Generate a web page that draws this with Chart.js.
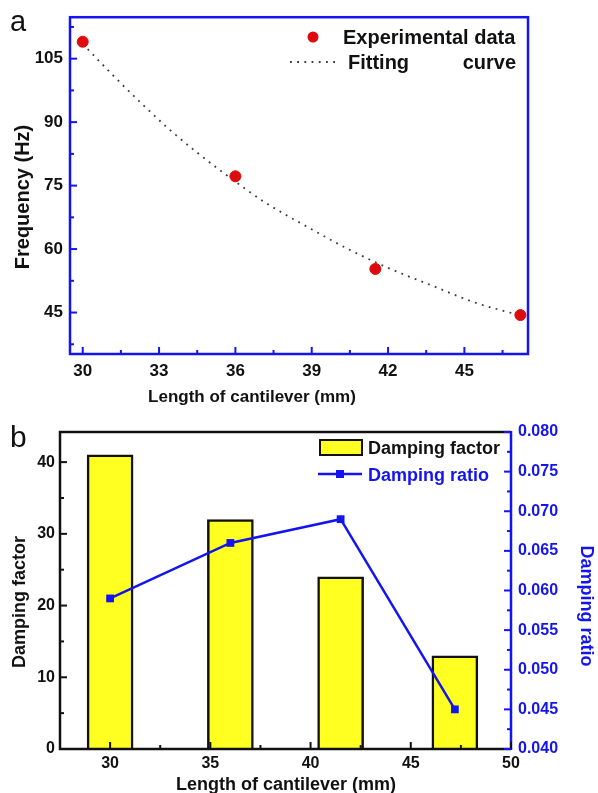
<!DOCTYPE html>
<html>
<head>
<meta charset="utf-8">
<script src="https://cdn.jsdelivr.net/npm/chart.js@4.4.1/dist/chart.umd.min.js"></script>
<style>
  html, body { margin: 0; padding: 0; background: #fff; }
  body { width: 598px; height: 793px; position: relative; overflow: hidden; }
  canvas { position: absolute; left: 0; }
  #chartA { top: 0; }
  #chartB { top: 410px; }
</style>
</head>
<body>
<canvas id="chartA" width="598" height="410"></canvas>
<canvas id="chartB" width="598" height="383"></canvas>
<script>
// panel a - frequency vs cantilever length
const lengthA = [30, 36, 41.5, 47.2];
const freqA = [109, 77.2, 55.3, 44.4];
const fitLen = [30, 31.2, 32.3, 33.4, 34.5, 35.6, 37.2, 38.9, 40.5, 42.1, 43.8, 45.4, 47.2];
const fitFreq = [108.5, 101.0, 94.5, 88.3, 82.8, 77.7, 70.9, 65.0, 59.8, 55.3, 51.2, 47.4, 44.3];
const xTicksA = [30, 33, 36, 39, 42, 45];
const yTicksA = [45, 60, 75, 90, 105];

// panel b - damping factor (bars) and damping ratio (line)
const lengthB = [30, 36, 41.5, 47.2];
const dampFactor = [41, 32, 24, 13];
const dampRatio = [0.059, 0.066, 0.069, 0.045];
const xTicksB = [30, 35, 40, 45, 50];
const yTicksB = [0, 10, 20, 30, 40];
const y2TicksB = [0.040, 0.045, 0.050, 0.055, 0.060, 0.065, 0.070, 0.075, 0.080];

const FONT = "'Liberation Sans', Arial, Helvetica, sans-serif";
const BLUE = '#1414f0';
const INK = '#111111';

const fixSize = (w, h) => s => { if (w != null) s.width = w; if (h != null) s.height = h; };
const useTicks = list => s => { s.ticks = list.map(v => ({ value: v })); };

function text(ctx, str, x, y, font, color, align, rot) {
  ctx.save();
  ctx.translate(x, y);
  ctx.rotate(rot || 0);
  ctx.font = font;
  ctx.fillStyle = color;
  ctx.textAlign = align || 'left';
  ctx.textBaseline = 'alphabetic';
  ctx.fillText(str, 0, 0);
  ctx.restore();
}

// inward major + minor tick marks, placed through the scale
function inTicks(chart, id, color, big, small) {
  const s = chart.scales[id], a = chart.chartArea, ctx = chart.ctx;
  const vals = s.ticks.map(t => t.value);
  const step = vals[1] - vals[0];
  ctx.save();
  ctx.strokeStyle = color;
  ctx.lineWidth = 2;
  const mark = (v, len) => {
    const p = s.getPixelForValue(v);
    ctx.beginPath();
    if (s.axis === 'x') { ctx.moveTo(p, a.bottom); ctx.lineTo(p, a.bottom - len); }
    else if (s.position === 'left') { ctx.moveTo(a.left, p); ctx.lineTo(a.left + len, p); }
    else { ctx.moveTo(a.right, p); ctx.lineTo(a.right - len, p); }
    ctx.stroke();
  };
  vals.forEach(v => mark(v, big));
  for (let v = vals[0] - step / 2; v <= s.max + 1e-9; v += step) {
    if (v >= s.min) mark(v, small);
  }
  ctx.restore();
}

const panelA = {
  id: 'panelA',
  afterDraw(chart) {
    const ctx = chart.ctx, a = chart.chartArea;
    const pts = chart.data.datasets[0], fit = chart.data.datasets[1];
    ctx.save();
    ctx.strokeStyle = BLUE;
    ctx.lineWidth = 2.5;
    ctx.strokeRect(a.left, a.top, a.right - a.left, a.bottom - a.top);
    ctx.restore();
    inTicks(chart, 'x', BLUE, 7, 4);
    inTicks(chart, 'y', BLUE, 7, 4);

    text(ctx, 'a', 10, 31, `29px ${FONT}`, INK);
    text(ctx, 'Length of cantilever (mm)', 252, 401.5, `bold 17px ${FONT}`, INK, 'center');
    text(ctx, 'Frequency (Hz)', 29, 197, `bold 20px ${FONT}`, INK, 'center', -Math.PI / 2);

    // legend
    ctx.save();
    ctx.fillStyle = pts.backgroundColor;
    ctx.beginPath();
    ctx.arc(313, 37, pts.pointRadius, 0, Math.PI * 2);
    ctx.fill();
    ctx.strokeStyle = fit.borderColor;
    ctx.lineWidth = fit.borderWidth;
    ctx.setLineDash(fit.borderDash);
    ctx.beginPath();
    ctx.moveTo(290, 62);
    ctx.lineTo(336, 62);
    ctx.stroke();
    ctx.restore();
    text(ctx, 'Experimental data', 343, 44, `bold 20px ${FONT}`, INK);
    text(ctx, 'Fitting', 348, 69, `bold 20px ${FONT}`, INK);
    text(ctx, 'curve', 516, 69, `bold 20px ${FONT}`, INK, 'right');
  }
};

const panelB = {
  id: 'panelB',
  afterDraw(chart) {
    const ctx = chart.ctx, a = chart.chartArea;
    const line = chart.data.datasets[0], bars = chart.data.datasets[1];
    ctx.save();
    ctx.lineWidth = 2.5;
    ctx.strokeStyle = INK;
    ctx.beginPath();
    ctx.moveTo(a.right, a.top);
    ctx.lineTo(a.left, a.top);
    ctx.lineTo(a.left, a.bottom);
    ctx.lineTo(a.right, a.bottom);
    ctx.stroke();
    ctx.strokeStyle = BLUE;
    ctx.beginPath();
    ctx.moveTo(a.right, a.top - 1);
    ctx.lineTo(a.right, a.bottom + 1);
    ctx.stroke();
    ctx.restore();
    inTicks(chart, 'x', INK, 7, 4);
    inTicks(chart, 'y', INK, 7, 4);
    inTicks(chart, 'y1', BLUE, 7, 4);

    text(ctx, 'b', 10, 36.5, `30px ${FONT}`, INK);
    text(ctx, 'Length of cantilever (mm)', 286, 380, `bold 18px ${FONT}`, INK, 'center');
    text(ctx, 'Damping factor', 25, 192, `bold 18px ${FONT}`, INK, 'center', -Math.PI / 2);
    text(ctx, 'Damping ratio', 581, 196, `bold 18px ${FONT}`, BLUE, 'center', Math.PI / 2);

    // legend
    ctx.save();
    ctx.fillStyle = bars.backgroundColor;
    ctx.fillRect(320, 30, 42, 15);
    ctx.strokeStyle = bars.borderColor;
    ctx.lineWidth = 2;
    ctx.strokeRect(320, 30, 42, 15);
    ctx.strokeStyle = line.borderColor;
    ctx.lineWidth = line.borderWidth;
    ctx.beginPath();
    ctx.moveTo(318, 64);
    ctx.lineTo(362, 64);
    ctx.stroke();
    ctx.fillStyle = line.pointBackgroundColor;
    ctx.fillRect(336, 60, 8, 8);
    ctx.restore();
    text(ctx, 'Damping factor', 368, 44, `bold 18px ${FONT}`, INK);
    text(ctx, 'Damping ratio', 368, 70.5, `bold 18px ${FONT}`, BLUE);
  }
};

Chart.defaults.font.family = FONT;
Chart.defaults.animation = false;

const tickFont = size => ({ family: FONT, size: size, weight: 'bold' });

new Chart(document.getElementById('chartA'), {
  type: 'scatter',
  data: {
    datasets: [
      {
        label: 'Experimental data',
        data: lengthA.map((x, i) => ({ x: x, y: freqA[i] })),
        backgroundColor: '#dd0b0b',
        borderColor: '#dd0b0b',
        pointRadius: 5.5,
        order: 0
      },
      {
        label: 'Fitting curve',
        data: fitLen.map((x, i) => ({ x: x, y: fitFreq[i] })),
        showLine: true,
        borderColor: '#3a3a3a',
        borderWidth: 1.8,
        borderDash: [1.8, 5.4],
        pointRadius: 0,
        cubicInterpolationMode: 'monotone',
        order: 1
      }
    ]
  },
  options: {
    responsive: false,
    events: [],
    layout: { padding: { top: 15, right: 70, left: 0, bottom: 0 } },
    plugins: { legend: { display: false }, tooltip: { enabled: false } },
    scales: {
      x: {
        type: 'linear', min: 29.5, max: 47.5,
        grid: { display: false, drawTicks: false },
        border: { display: false },
        afterBuildTicks: useTicks(xTicksA),
        afterFit: fixSize(null, 56),
        ticks: { color: INK, font: tickFont(17), padding: 7, autoSkip: false, maxRotation: 0 }
      },
      y: {
        type: 'linear', min: 35.2, max: 114.8,
        grid: { display: false, drawTicks: false },
        border: { display: false },
        afterBuildTicks: useTicks(yTicksA),
        afterFit: fixSize(70, null),
        ticks: { color: INK, font: tickFont(17), padding: 7, autoSkip: false }
      }
    }
  },
  plugins: [panelA]
});

new Chart(document.getElementById('chartB'), {
  type: 'bar',
  data: {
    datasets: [
      {
        type: 'line',
        label: 'Damping ratio',
        data: lengthB.map((x, i) => ({ x: x, y: dampRatio[i] })),
        yAxisID: 'y1',
        borderColor: BLUE,
        borderWidth: 2.5,
        pointStyle: 'rect',
        pointRadius: 5.5,
        pointBackgroundColor: BLUE,
        pointBorderColor: BLUE,
        pointBorderWidth: 0,
        order: 0
      },
      {
        type: 'bar',
        label: 'Damping factor',
        data: lengthB.map((x, i) => ({ x: x, y: dampFactor[i] })),
        yAxisID: 'y',
        backgroundColor: '#ffff22',
        borderColor: '#111111',
        borderWidth: 2.5,
        barThickness: 46,
        order: 1
      }
    ]
  },
  options: {
    responsive: false,
    events: [],
    layout: { padding: { top: 22, right: 0, left: 0, bottom: 0 } },
    plugins: { legend: { display: false }, tooltip: { enabled: false } },
    scales: {
      x: {
        type: 'linear', min: 27.5, max: 50, offset: false,
        grid: { display: false, drawTicks: false, offset: false },
        border: { display: false },
        afterBuildTicks: useTicks(xTicksB),
        afterFit: fixSize(null, 44),
        ticks: { color: INK, font: tickFont(16), padding: 5, autoSkip: false, maxRotation: 0 }
      },
      y: {
        type: 'linear', position: 'left', min: 0, max: 44.2,
        grid: { display: false, drawTicks: false },
        border: { display: false },
        afterBuildTicks: useTicks(yTicksB),
        afterFit: fixSize(60, null),
        ticks: { color: INK, font: tickFont(16), padding: 5, autoSkip: false }
      },
      y1: {
        type: 'linear', position: 'right', min: 0.04, max: 0.08,
        grid: { display: false, drawTicks: false },
        border: { display: false },
        afterBuildTicks: useTicks(y2TicksB),
        afterFit: fixSize(87, null),
        ticks: { color: BLUE, font: tickFont(16), padding: 7, autoSkip: false, callback: v => v.toFixed(3) }
      }
    }
  },
  plugins: [panelB]
});
</script>
</body>
</html>
